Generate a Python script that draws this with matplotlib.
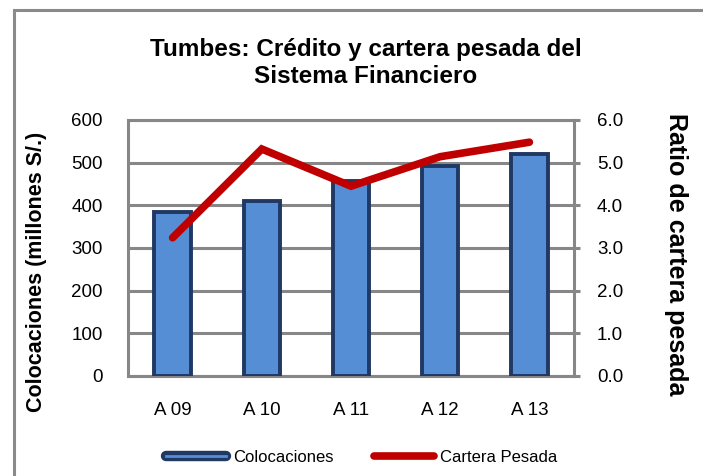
import matplotlib
matplotlib.use("Agg")
import matplotlib.pyplot as plt
from matplotlib.lines import Line2D
from matplotlib.legend_handler import HandlerTuple
from matplotlib.patches import Rectangle

plt.rcParams['font.family'] = ['Liberation Sans', 'DejaVu Sans']

categories = ["A 09", "A 10", "A 11", "A 12", "A 13"]
colocaciones = [384, 410, 456, 493, 521]
cartera_pesada = [3.24, 5.32, 4.45, 5.14, 5.48]
left_ticks = [0, 100, 200, 300, 400, 500, 600]
right_ticks = [0, 1, 2, 3, 4, 5, 6]

W, H = 703, 476
fig = plt.figure(figsize=(W / 100, H / 100), dpi=100)
fig.patch.set_facecolor('white')

# outer chart frame (left and top edges visible)
fig.patches.append(Rectangle((14 / W, -0.05), 1.2, 1 - 10 / H + 0.05, transform=fig.transFigure,
                             fill=False, edgecolor='#8a8a8a', linewidth=2.2, zorder=0))

ax = fig.add_axes([128 / W, 1 - 376 / H, (574 - 128) / W, (376 - 120) / H])
grid_c = '#878787'
x = list(range(len(categories)))
ax.bar(x, colocaciones, width=0.41, color='#558ED5', edgecolor='#1F3864', linewidth=2.8, zorder=3)
ax.set_ylim(0, 600)
ax.set_xlim(-0.5, 4.5)
ax.set_yticks(left_ticks)
ax.set_yticklabels([str(v) for v in left_ticks], fontsize=13.5)
ax.set_xticks(x)
ax.set_xticklabels(categories, fontsize=13.5)
ax.tick_params(axis='y', length=0, pad=18)
ax.tick_params(axis='x', length=0, pad=19)
ax.grid(axis='y', color=grid_c, linewidth=2.2, zorder=0)
ax.set_axisbelow(True)
for s in ax.spines.values():
    s.set_color(grid_c)
    s.set_linewidth(2.2)

ax2 = ax.twinx()
ax2.plot(x, cartera_pesada, color='#C00000', linewidth=5.5, solid_capstyle='round',
         solid_joinstyle='miter', zorder=5)
ax2.set_ylim(0, 6)
ax2.set_yticks(right_ticks)
ax2.set_yticklabels([f"{v:.1f}" for v in right_ticks], fontsize=13.5)
ax2.tick_params(axis='y', length=4.5, width=2.2, color=grid_c, direction='out', pad=12)
for s in ax2.spines.values():
    s.set_visible(False)

# axis titles
fig.text(37 / W, 1 - 272 / H, "Colocaciones (millones S/.)", rotation=90, ha='center', va='center',
         fontsize=15.5, fontweight='bold')
fig.text(676 / W, 1 - 254 / H, "Ratio de cartera pesada", rotation=270, ha='center', va='center',
         fontsize=18, fontweight='bold')

fig.text(366 / W, 1 - 63 / H, "Tumbes: Crédito y cartera pesada del\nSistema Financiero",
         ha='center', va='center', fontsize=17.5, fontweight='bold', linespacing=1.2)

h1 = (Line2D([], [], color='#1F3864', linewidth=7.5, solid_capstyle='round'),
      Line2D([], [], color='#558ED5', linewidth=2))
h2 = Line2D([], [], color='#C00000', linewidth=5.5, solid_capstyle='round')
fig.legend([h1, h2], ["Colocaciones", "Cartera Pesada"],
           handler_map={tuple: HandlerTuple(ndivide=1, pad=0)},
           loc='center', bbox_to_anchor=(362 / W, 1 - 457 / H), ncol=2, frameon=False,
           fontsize=12, handlelength=3.6, columnspacing=2.4, handletextpad=0.4)

fig.savefig("out.png", dpi=100, facecolor='white')
